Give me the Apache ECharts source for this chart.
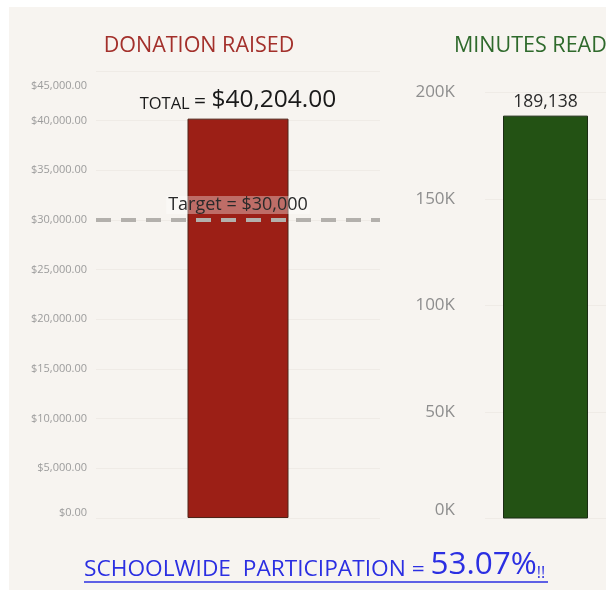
<!DOCTYPE html>
<html>
<head>
<meta charset="utf-8">
<script src="https://cdn.jsdelivr.net/npm/echarts@6/dist/echarts.min.js"></script>
<style>
  html, body { margin: 0; padding: 0; background: #fff; }
  #main { width: 606px; height: 597px; }
</style>
</head>
<body>
<div id="main"></div>
<script>
// data
var donationCats = ['Donation'];
var donationValues = [40204];
var donationTarget = 30000;
var donationTicks = [0, 5000, 10000, 15000, 20000, 25000, 30000, 35000, 40000, 45000];
var minutesCats = ['Minutes'];
var minutesValues = [189138];
var minutesTicks = [0, 50000, 100000, 150000, 200000];
var participation = '53.07%';

var FONT = '"Open Sans", "Noto Sans", sans-serif';
var chart = echarts.init(document.getElementById('main'));

function money(v, d) {
  return '$' + v.toLocaleString('en-US', {minimumFractionDigits: d, maximumFractionDigits: d});
}

var donationMax = donationTicks[donationTicks.length - 1];

var option = {
  backgroundColor: '#ffffff',
  animation: false,
  graphic: [
    {type: 'rect', z: -10, shape: {x: 9, y: 7, width: 597, height: 583}, style: {fill: '#f7f4f0'}},
    {
      type: 'text', left: 84, top: 549,
      style: {
        text: '{a|SCHOOLWIDE  PARTICIPATION = }{b|' + participation + '}{c|!!}',
        rich: {
          a: {fontFamily: FONT, fontSize: 22.7, fill: '#2b2fe2', verticalAlign: 'bottom', lineHeight: 36},
          b: {fontFamily: FONT, fontSize: 31.5, fill: '#2b2fe2', verticalAlign: 'bottom', lineHeight: 36},
          c: {fontFamily: FONT, fontSize: 16, fill: '#2b2fe2', verticalAlign: 'bottom', lineHeight: 36}
        }
      }
    },
    {type: 'line', shape: {x1: 84, y1: 582, x2: 548, y2: 582}, style: {stroke: '#2b2fe2', lineWidth: 1.5}}
  ],
  title: [
    {text: 'DONATION RAISED', left: 194, top: 30, textAlign: 'center',
     textStyle: {fontFamily: FONT, fontSize: 21.5, fontWeight: 'normal', color: '#a3302b'}},
    {text: 'MINUTES READ', left: 449, top: 30,
     textStyle: {fontFamily: FONT, fontSize: 21.5, fontWeight: 'normal', color: '#2f6a2c'}}
  ],
  grid: [
    {left: 96, top: 71, width: 284, height: 447},
    {left: 485, top: 92.5, width: 121, height: 426}
  ],
  xAxis: [
    {type: 'category', gridIndex: 0, data: donationCats, axisLine: {show: false}, axisTick: {show: false}, axisLabel: {show: false}},
    {type: 'category', gridIndex: 1, data: minutesCats, axisLine: {show: false}, axisTick: {show: false}, axisLabel: {show: false}}
  ],
  yAxis: [
    {
      type: 'value', gridIndex: 0, min: donationTicks[0], max: donationMax, interval: 5000,
      axisLine: {show: false}, axisTick: {show: false},
      splitLine: {lineStyle: {color: '#efebe6', width: 1}},
      axisLabel: {
        margin: 9, color: '#9c9c9c', fontFamily: FONT, fontSize: 11,
        verticalAlignMaxLabel: 'top', verticalAlignMinLabel: 'bottom',
        formatter: function (v) {
          return v === donationMax ? '{m|' + money(v, 2) + '}' : money(v, 2);
        },
        rich: {m: {fontFamily: FONT, fontSize: 11, color: '#9c9c9c', padding: [9, 0, 0, 0]}}
      }
    },
    {
      type: 'value', gridIndex: 1, min: minutesTicks[0], max: minutesTicks[minutesTicks.length - 1], interval: 50000,
      axisLine: {show: false}, axisTick: {show: false},
      splitLine: {lineStyle: {color: '#efebe6', width: 1}},
      axisLabel: {
        margin: 30, color: '#8e8e8e', fontFamily: FONT, fontSize: 17,
        verticalAlignMinLabel: 'bottom',
        formatter: function (v) { return (v / 1000) + 'K'; }
      }
    }
  ],
  series: [
    {
      type: 'bar', xAxisIndex: 0, yAxisIndex: 0, data: donationValues, barWidth: 101,
      itemStyle: {color: '#9c1f16', borderColor: '#4e2418', borderWidth: 1},
      label: {
        show: true, position: 'top', distance: 6,
        formatter: function (p) { return '{a|TOTAL }{b|= }{c|' + money(p.value, 2) + '}'; },
        rich: {
          a: {fontFamily: FONT, fontSize: 16.5, color: '#1a1a1a', verticalAlign: 'bottom', lineHeight: 30},
          b: {fontFamily: FONT, fontSize: 21, color: '#1a1a1a', verticalAlign: 'bottom', lineHeight: 30},
          c: {fontFamily: FONT, fontSize: 24.5, color: '#1a1a1a', verticalAlign: 'bottom', lineHeight: 30}
        }
      },
      markLine: {
        silent: true, symbol: 'none',
        lineStyle: {type: [15, 10], color: '#b3b0ac', width: 4},
        label: {
          position: 'insideMiddleTop', distance: 6,
          formatter: 'Target = ' + money(donationTarget, 0),
          fontFamily: FONT, fontSize: 18, color: '#2a2a2a',
          backgroundColor: 'rgba(255,255,255,0.35)', padding: [0, 2, 0, 2]
        },
        data: [{yAxis: donationTarget}]
      }
    },
    {
      type: 'bar', xAxisIndex: 1, yAxisIndex: 1, data: minutesValues, barWidth: 85,
      itemStyle: {color: '#235214', borderColor: '#1b2c14', borderWidth: 1},
      label: {
        show: true, position: 'top', distance: 5,
        fontFamily: FONT, fontSize: 17.5, color: '#2a2a2a',
        formatter: function (p) { return p.value.toLocaleString('en-US'); }
      }
    }
  ]
};

chart.setOption(option);
</script>
</body>
</html>
